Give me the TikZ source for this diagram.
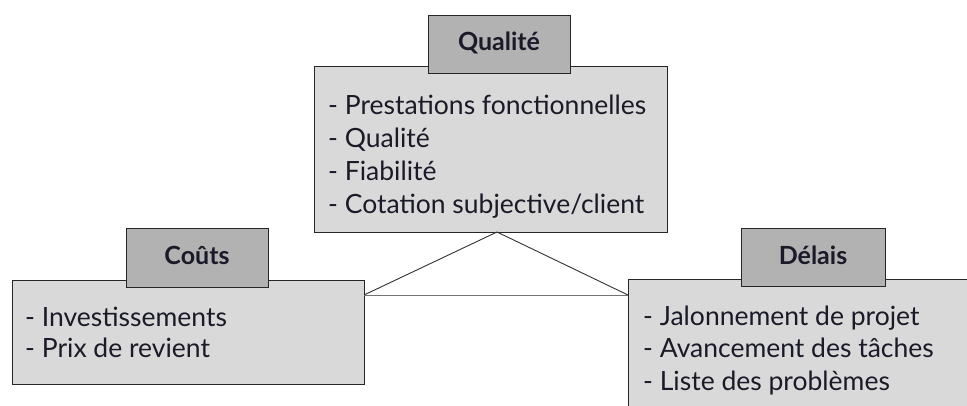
\documentclass[tikz,border=0pt]{standalone}
\usepackage{fontspec}
\setmainfont{Lato}
\definecolor{boxfill}{HTML}{D9D9D9}
\definecolor{headfill}{HTML}{B2B2B2}
\definecolor{ink}{HTML}{1A1A28}
\begin{document}
\begin{tikzpicture}[x=1pt,y=-1pt,
  panel/.style={draw=black!85, line width=1.2pt, fill=boxfill, rectangle, anchor=north west, inner sep=0pt},
  header/.style={draw=black!85, line width=1.2pt, fill=headfill, rectangle, anchor=north west, inner sep=0pt},
  headtext/.style={anchor=base, inner sep=0pt, text=ink, font=\fontsize{25}{28}\selectfont\bfseries},
  items/.style={anchor=base west, align=left, inner sep=0pt, text=ink, font=\fontsize{26.5}{32.7}\selectfont},
  link/.style={draw=black!80, line width=0.9pt}
]
\clip (0,0) rectangle (967,405);
\fill[white] (0,0) rectangle (967,405);
% Qualite
\node[panel, minimum width=353pt, minimum height=166pt] (qbox) at (314,66) {};
\node[header, minimum width=142pt, minimum height=58pt] (qhead) at (428,15) {};
\node[headtext] (qtitle) at (499,50) {Qualité};
\node[items] (qtext) at (328,213) {- Prestations fonctionnelles\\- Qualité\\- Fiabilité\\- Cotation subjective/client};
% Couts
\node[panel, minimum width=352pt, minimum height=104pt] (cbox) at (12,280) {};
\node[header, minimum width=142pt, minimum height=59pt] (chead) at (126,228) {};
\node[headtext] (ctitle) at (197,264) {Coûts};
\node[items, font=\fontsize{26.5}{31}\selectfont] (ctext) at (25,357) {- Investissements\\- Prix de revient};
% Delais
\node[panel, minimum width=360pt, minimum height=140pt] (dbox) at (628,279) {};
\node[header, minimum width=144pt, minimum height=58pt] (dhead) at (741,228) {};
\node[headtext] (dtitle) at (813,264) {Délais};
\node[items, font=\fontsize{26.5}{32.5}\selectfont] (dtext) at (643,390) {- Jalonnement de projet\\- Avancement des tâches\\- Liste des problèmes};
% triangle
\coordinate (apex) at (497,232);
\coordinate (bl) at (364,295);
\coordinate (br) at (628,295);
\draw[link] (apex) -- (bl);
\draw[link] (apex) -- (br);
\draw[link, draw=black!55] (bl) -- (br);
\end{tikzpicture}
\end{document}
